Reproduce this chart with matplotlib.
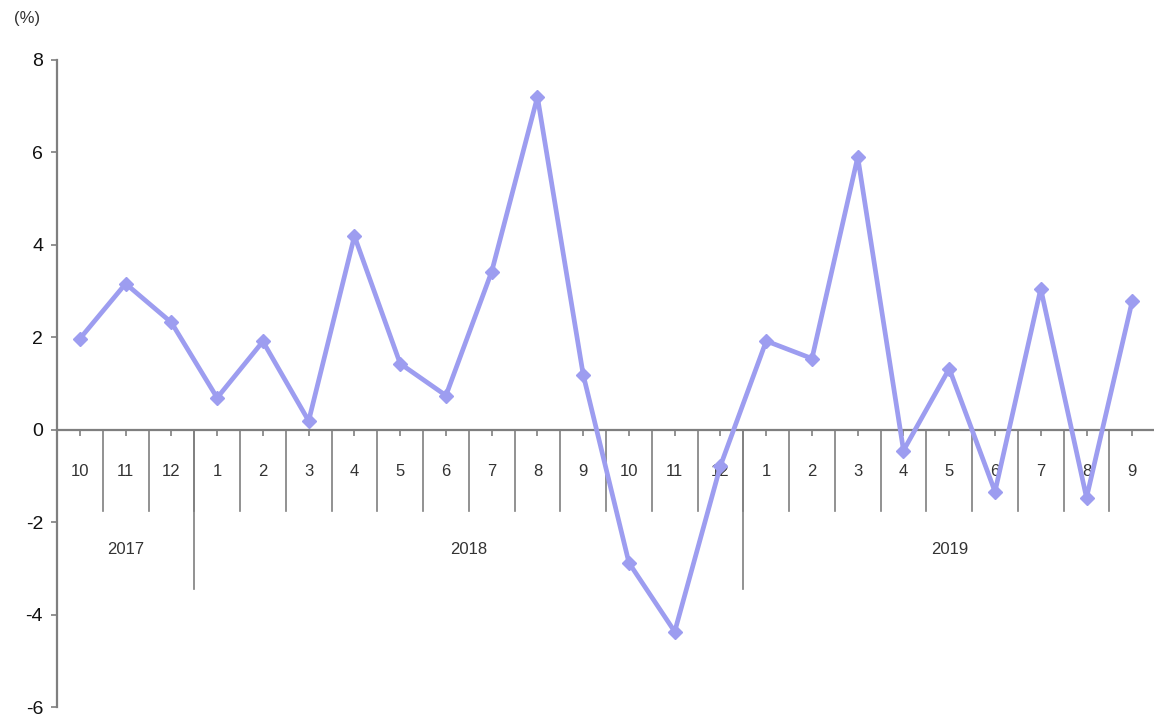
import numpy as np
import matplotlib.pyplot as plt

plt.rcParams['font.family'] = ['Liberation Sans', 'DejaVu Sans']

# monthly values, Oct 2017 .. Sep 2019
months = ['10', '11', '12', '1', '2', '3', '4', '5', '6', '7', '8', '9',
          '10', '11', '12', '1', '2', '3', '4', '5', '6', '7', '8', '9']
values = [1.97, 3.16, 2.32, 0.69, 1.91, 0.19, 4.19, 1.43, 0.74, 3.42, 7.2, 1.19,
          -2.88, -4.37, -0.78, 1.92, 1.54, 5.9, -0.45, 1.32, -1.34, 3.05, -1.47, 2.79]
years = ['2017', '2018', '2019']
year_spans = [(0, 2), (3, 14), (15, 23)]

line_col = '#9d9df0'
axis_col = '#7f7f7f'
text_col = '#333333'

fig = plt.figure(figsize=(11.54, 7.19), dpi=100)
ax = fig.add_axes([57/1154, 1 - 707/719, 1 - 57/1154 + 0.001, (707 - 60)/719])

x = np.arange(len(values))
ax.plot(x, values, color=line_col, lw=3.4, marker='D', ms=7.5,
        mfc=line_col, mec=line_col, zorder=3, clip_on=False)

ax.set_xlim(-0.5, len(values) - 0.5)
ax.set_ylim(-6, 8)
ax.set_yticks(np.arange(-6, 9, 2))
ax.set_yticklabels([str(v) for v in range(-6, 9, 2)], fontsize=14, color='#111111')

ax.spines['top'].set_visible(False)
ax.spines['right'].set_visible(False)
ax.spines['bottom'].set_position(('data', 0))
for s in ['left', 'bottom']:
    ax.spines[s].set_color(axis_col)
    ax.spines[s].set_linewidth(1.6)

ax.set_xticks(x)
ax.set_xticklabels(months, fontsize=12, color=text_col)
ax.tick_params(axis='x', length=4, width=1.2, color=axis_col, pad=21)
ax.tick_params(axis='y', length=4, width=1.2, color=axis_col, pad=6)

# category separators below the zero line
for b in np.arange(0.5, len(values), 1.0):
    ax.plot([b, b], [0, -1.75], color=axis_col, lw=1.2, clip_on=False, zorder=1)
for (s, e), yr in zip(year_spans, years):
    ax.plot([e + 0.5, e + 0.5], [0, -3.45], color=axis_col, lw=1.2, clip_on=False, zorder=1)
    ax.text((s + e) / 2, -2.6, yr, ha='center', va='center',
            fontsize=12, color=text_col)

fig.text(14/1154, 1 - 18/719, '(%)', fontsize=12, color=text_col, va='center', ha='left')

fig.savefig('out.png', dpi=100, facecolor='white')
